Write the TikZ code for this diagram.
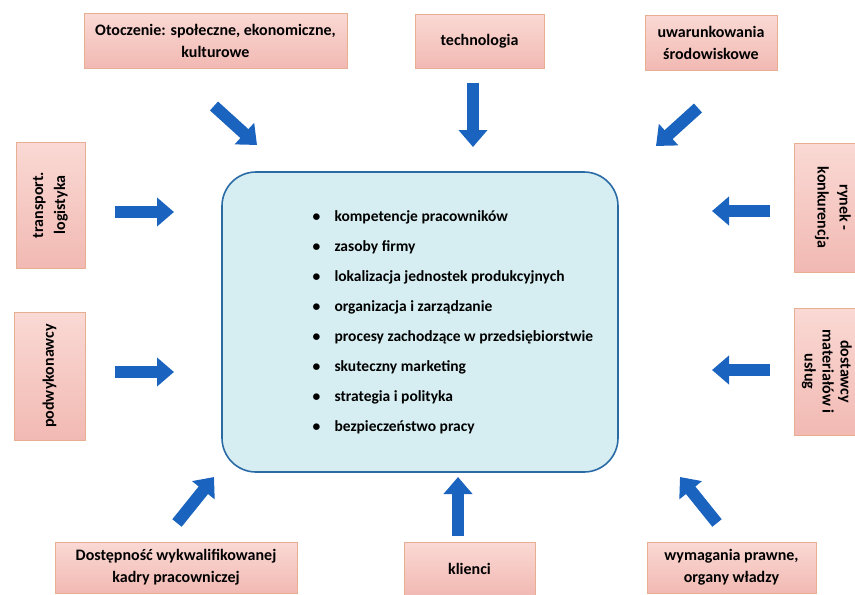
\documentclass[tikz,border=0pt]{standalone}
\usepackage{fontspec}
\setmainfont{Carlito}
\usetikzlibrary{arrows.meta}

\definecolor{rozowy}{HTML}{F2B9B3}
\definecolor{rozowyjasny}{HTML}{FAD9D4}
\definecolor{ramka}{HTML}{E8AE92}
\definecolor{niebieski}{HTML}{1A63BE}
\definecolor{blekit}{HTML}{D6EEF2}
\definecolor{granat}{HTML}{2A6BA6}

\tikzset{
  czynnik/.style={draw=ramka, line width=0.8pt, top color=rozowyjasny, bottom color=rozowy,
    align=center, inner sep=2pt, font=\bfseries\fontsize{16}{22}\selectfont},
  strzalka/.style={draw=niebieski, line width=12pt, -{Triangle[length=17pt,width=28pt]}},
}

\begin{document}
\begin{tikzpicture}[x=1pt,y=-1pt]
    % Picture frame
    \useasboundingbox (0,0) rectangle (855,595);
    \clip (0,0) rectangle (855,595);

    % Central box with the list
    \node[draw=granat, line width=1.6pt, fill=blekit, rounded corners=34pt,
      minimum width=396pt, minimum height=300pt] (rdzen) at (420,322) {};
    \node[anchor=west, align=left, font=\bfseries\fontsize{15.5}{30}\selectfont] (lista) at (309,322) {%
      \makebox[22pt][l]{\textbullet}kompetencje pracowników\\
      \makebox[22pt][l]{\textbullet}zasoby firmy\\
      \makebox[22pt][l]{\textbullet}lokalizacja jednostek produkcyjnych\\
      \makebox[22pt][l]{\textbullet}organizacja i zarządzanie\\
      \makebox[22pt][l]{\textbullet}procesy zachodzące w przedsiębiorstwie\\
      \makebox[22pt][l]{\textbullet}skuteczny marketing\\
      \makebox[22pt][l]{\textbullet}strategia i polityka\\
      \makebox[22pt][l]{\textbullet}bezpieczeństwo pracy};

    % Upper boxes
    \node[czynnik, minimum width=263pt, minimum height=55pt] (otoczenie) at (215.5,40.5) {Otoczenie: społeczne, ekonomiczne,\\kulturowe};
    \node[czynnik, minimum width=129pt, minimum height=54pt] (technologia) at (479.5,41) {technologia};
    \node[czynnik, minimum width=132pt, minimum height=55pt] (srodowisko) at (711,42.5) {uwarunkowania\\środowiskowe};

    % Left boxes
    \node[czynnik, rotate=90, minimum width=126pt, minimum height=69pt] (transport) at (50.5,205) {transport.\\logistyka};
    \node[czynnik, rotate=90, minimum width=128pt, minimum height=71pt] (podwykonawcy) at (49.5,376) {podwykonawcy};

    % Right boxes (cut by the page edge)
    \node[czynnik, rotate=-90, minimum width=129pt, minimum height=78pt] (rynek) at (833,207.5) {rynek -\\konkurencja};
    \node[czynnik, rotate=-90, minimum width=127pt, minimum height=66pt,
      font=\bfseries\fontsize{16}{18}\selectfont] (dostawcy) at (827,371.5) {dostawcy\\materiałów i\\usług};

    % Lower boxes
    \node[czynnik, minimum width=242pt, minimum height=51pt] (kadry) at (176,567.5) {Dostępność wykwalifikowanej\\kadry pracowniczej};
    \node[czynnik, minimum width=131pt, minimum height=53pt] (klienci) at (469.5,568.5) {klienci};
    \node[czynnik, minimum width=169pt, minimum height=51pt] (prawo) at (731.5,567.5) {wymagania prawne,\\organy władzy};

    % Arrow ends
    \coordinate (od1) at (214,106);  \coordinate (do1) at (257,145);
    \coordinate (od2) at (473,83);   \coordinate (do2) at (473,147);
    \coordinate (od3) at (698,108);  \coordinate (do3) at (656,146);
    \coordinate (od4) at (115,212);  \coordinate (do4) at (174,212);
    \coordinate (od5) at (115,372);  \coordinate (do5) at (174,372);
    \coordinate (od6) at (770,211);  \coordinate (do6) at (712,211);
    \coordinate (od7) at (770,370);  \coordinate (do7) at (712,370);
    \coordinate (od8) at (177,523);  \coordinate (do8) at (214,477);
    \coordinate (od9) at (458,536);  \coordinate (do9) at (458,477);
    \coordinate (od10) at (717,523); \coordinate (do10) at (680,477);

    % Arrows pointing to the centre
    \draw[strzalka] (od1) -- (do1);
    \draw[strzalka] (od2) -- (do2);
    \draw[strzalka] (od3) -- (do3);
    \draw[strzalka] (od4) -- (do4);
    \draw[strzalka] (od5) -- (do5);
    \draw[strzalka] (od6) -- (do6);
    \draw[strzalka] (od7) -- (do7);
    \draw[strzalka] (od8) -- (do8);
    \draw[strzalka] (od9) -- (do9);
    \draw[strzalka] (od10) -- (do10);
\end{tikzpicture}
\end{document}
